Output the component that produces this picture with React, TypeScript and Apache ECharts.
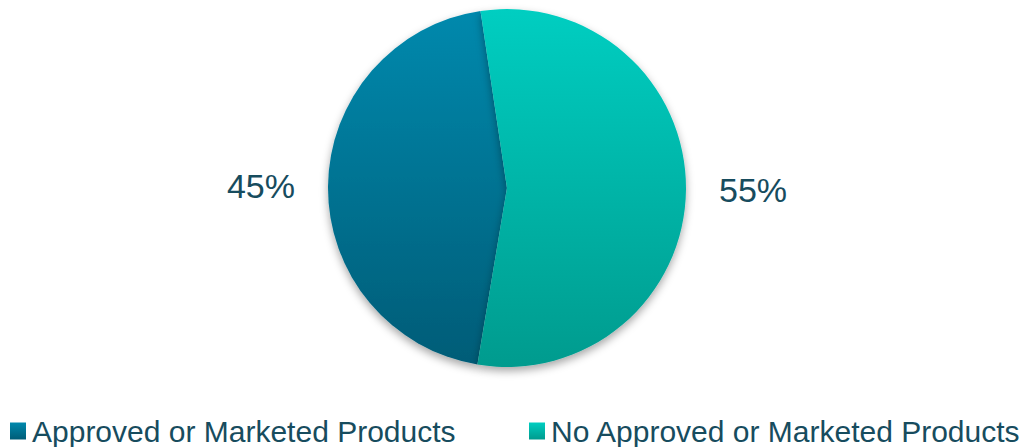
import React, { useEffect, useRef } from "react";
import * as echarts from "echarts";

const categories = ["Approved or Marketed Products", "No Approved or Marketed Products"];
const values = [45, 55];
const labels = ["45%", "55%"];

const gradients = [
  ["#0089AD", "#005C77"],
  ["#00CEC1", "#009B8E"],
];

export default function App() {
  const ref = useRef<HTMLDivElement>(null);
  useEffect(() => {
    if (!ref.current) return;
    const chart = echarts.init(ref.current, undefined, { renderer: "svg" });
    const font = "'Liberation Sans', Arial, sans-serif";
    const textColor = "#174C5E";
    chart.setOption({
      animation: false,
      backgroundColor: "#ffffff",
      legend: categories.map((c, i) => ({
        data: [c],
        left: i === 0 ? 10 : 529,
        top: 416,
        icon: "rect",
        itemWidth: 16,
        itemHeight: 17,
        itemGap: 0,
        padding: 0,
        textStyle: { fontFamily: font, fontSize: 30, color: textColor, padding: [0, 0, 0, 1] },
      })),
      series: [
        {
          type: "pie",
          center: [507, 188],
          radius: 179,
          startAngle: 260.5,
          clockwise: true,
          label: {
            show: true,
            position: "outside",
            fontFamily: font,
            fontSize: 34,
            color: textColor,
            formatter: (p: any) => labels[p.dataIndex],
          },
          labelLine: { show: false, length: 16, length2: 12 },
          itemStyle: {
            borderWidth: 0,
            shadowBlur: 8,
            shadowOffsetY: 4,
            shadowColor: "rgba(0,0,0,0.35)",
          },
          emphasis: { disabled: true },
          data: categories.map((c, i) => ({
            name: c,
            value: values[i],
            itemStyle: {
              color: new echarts.graphic.LinearGradient(0, 0, 0, 1, [
                { offset: 0, color: gradients[i][0] },
                { offset: 1, color: gradients[i][1] },
              ]),
            },
          })),
        },
      ],
    });
    return () => chart.dispose();
  }, []);
  return <div ref={ref} style={{ width: 1029, height: 447, position: "absolute", left: 0, top: 0 }} />;
}
